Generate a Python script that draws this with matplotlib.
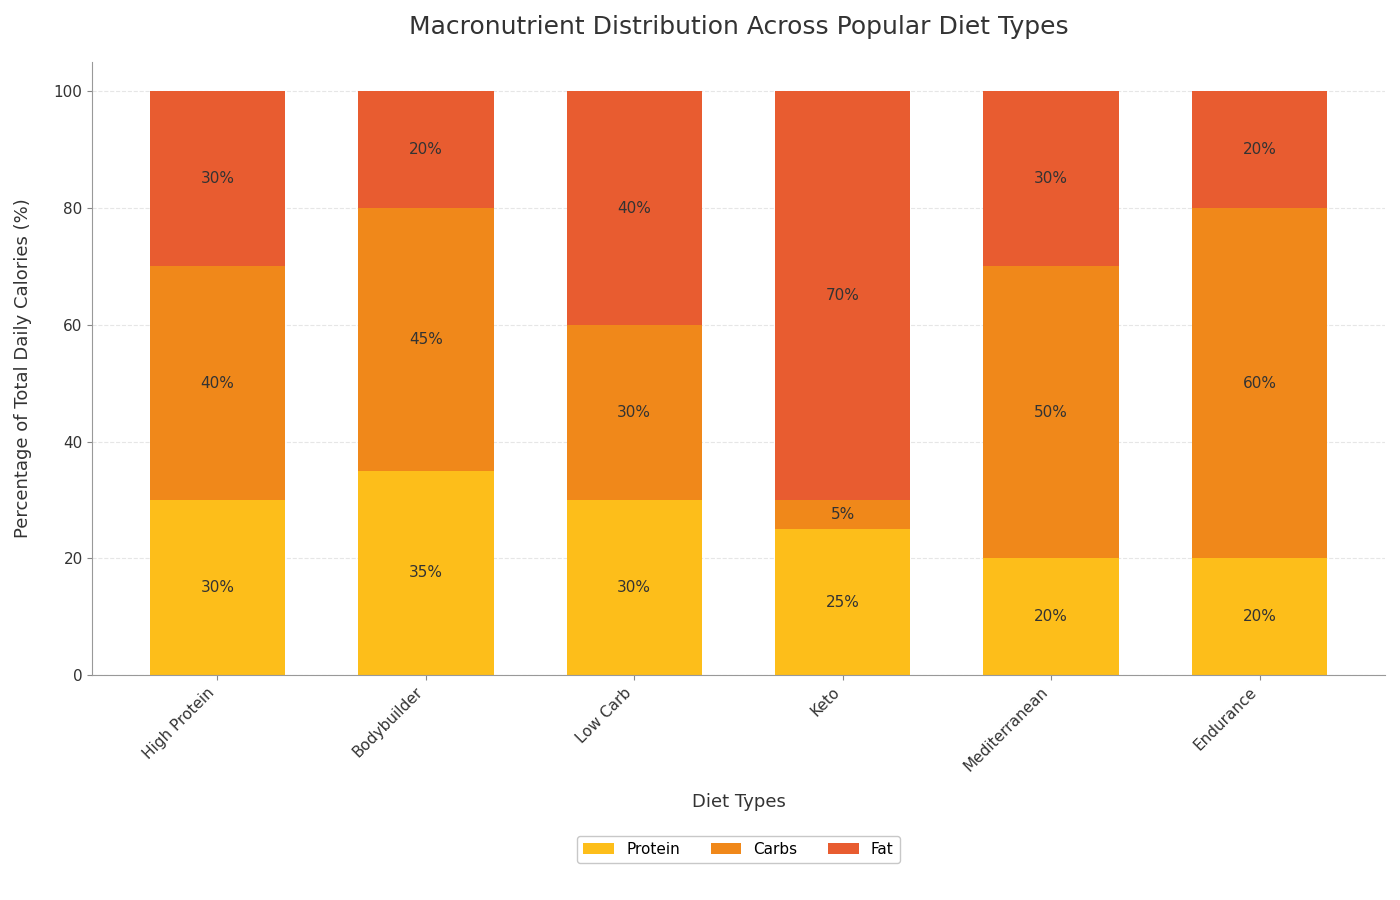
import matplotlib
matplotlib.use("Agg")
import matplotlib.pyplot as plt
import numpy as np

# data
diets = ["High Protein", "Bodybuilder", "Low Carb", "Keto", "Mediterranean", "Endurance"]
protein = [30, 35, 30, 25, 20, 20]
carbs = [40, 45, 30, 5, 50, 60]
fat = [30, 20, 40, 70, 30, 20]

series_names = ["Protein", "Carbs", "Fat"]
colors = ["#FDBE1A", "#F0881A", "#E85C30"]

fig = plt.figure(figsize=(14, 9), dpi=100)
ax = fig.add_axes([0.066, 0.25, 0.923, 0.681])

x = np.arange(len(diets))
bottom = np.zeros(len(diets))
for name, vals, col in zip(series_names, [protein, carbs, fat], colors):
    vals = np.array(vals)
    bars = ax.bar(x, vals, 0.65, bottom=bottom, color=col, label=name, zorder=2)
    ax.bar_label(bars, labels=[f"{v}%" for v in vals], label_type="center",
                 fontsize=11, color="#333333")
    bottom += vals

ax.set_xlim(-0.6, 5.6)
ax.set_ylim(0, 105)
ax.set_xticks(x)
ax.set_xticklabels(diets, rotation=45, ha="right", fontsize=11, color="#333333")
ax.tick_params(axis="y", labelsize=11, labelcolor="#333333", colors="#888888")
ax.tick_params(axis="x", colors="#888888", labelcolor="#333333")

ax.yaxis.grid(True, linestyle="--", color="#e6e6e6", linewidth=0.8, zorder=0)
ax.set_axisbelow(True)
for s in ["top", "right"]:
    ax.spines[s].set_visible(False)
for s in ["left", "bottom"]:
    ax.spines[s].set_color("#999999")

ax.set_title("Macronutrient Distribution Across Popular Diet Types",
             fontsize=18, color="#333333", pad=20)
ax.set_xlabel("Diet Types", fontsize=13, color="#333333", labelpad=13)
ax.set_ylabel("Percentage of Total Daily Calories (%)", fontsize=13, color="#333333", labelpad=16)

ax.legend(loc="upper center", bbox_to_anchor=(0.5, -0.25), ncol=3, fontsize=11,
          frameon=True, edgecolor="#bbbbbb", columnspacing=2)

fig.savefig("out.png", dpi=100)
